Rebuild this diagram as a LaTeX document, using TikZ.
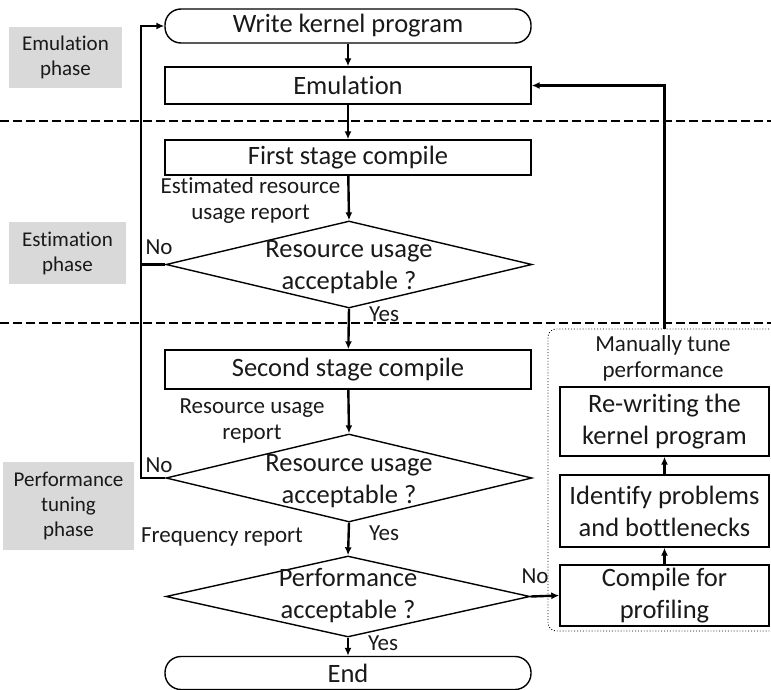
\documentclass[tikz,border=0pt]{standalone}
\usepackage{fontspec}
\setmainfont{Carlito}[Ligatures=NoCommon]
\usetikzlibrary{shapes.geometric,arrows.meta}
\definecolor{phasegray}{RGB}{217,217,217}
\definecolor{ink}{RGB}{25,25,25}
\begin{document}
\begin{tikzpicture}[x=1pt,y=-1pt,
  every node/.style={text=ink},
  box/.style={draw,line width=1.4pt,minimum width=366pt,inner sep=0pt,
    font=\fontsize{26.5}{31}\selectfont,align=center},
  term/.style={box,rounded corners=16pt},
  sidebox/.style={draw,line width=1.4pt,minimum width=209pt,inner sep=0pt,
    font=\fontsize{26.5}{32}\selectfont,align=center},
  dec/.style={draw,diamond,line width=1.4pt,inner sep=0pt,minimum width=366pt},
  dectext/.style={font=\fontsize{26.5}{32}\selectfont,align=center,inner sep=0pt},
  note/.style={font=\fontsize{23}{26}\selectfont,align=center,inner sep=0pt},
  phase/.style={fill=phasegray,font=\fontsize{21}{25}\selectfont,align=center,inner sep=0pt},
  conn/.style={line width=2.4pt,-{Latex[length=8pt,width=7pt]}},
  link/.style={line width=2.4pt},
  sep/.style={line width=2.4pt,dash pattern=on 9pt off 4pt},
]
\useasboundingbox (0,0) rectangle (771,690);

% phase labels
\node[phase,minimum width=113pt,minimum height=61pt] (pemu) at (65.5,57.5) {Emulation\\phase};
\node[phase,minimum width=117pt,minimum height=62pt] (pest) at (67.5,253) {Estimation\\phase};
\node[phase,minimum width=131pt,minimum height=88pt] (pperf) at (68.5,506) {Performance\\tuning\\phase};

% phase separators
\draw[sep] (0,121) -- (771,121);
\draw[sep] (0,323) -- (771,323);

% main flow
\node[term,minimum height=34pt] (start) at (348,26) {Write kernel program};
\node[box,minimum height=37pt] (emu) at (348,85.5) {Emulation};
\node[box,minimum height=35pt] (fsc) at (348,157.5) {First stage compile};
\node[dec,minimum height=87pt] (d1) at (349,264.5) {};
\node[dectext] (d1t) at (349,267) {Resource usage\\acceptable ?};
\node[box,minimum height=39pt] (ssc) at (348,369.5) {Second stage compile};
\node[dec,minimum height=88pt] (d2) at (349,478) {};
\node[dectext] (d2t) at (349,481) {Resource usage\\acceptable ?};
\node[dec,minimum height=81pt,minimum width=364pt] (d3) at (348,596.5) {};
\node[dectext] (d3t) at (348,596) {Performance\\acceptable ?};
\node[term,minimum height=33pt] (end) at (348,673) {End};

% manual tuning group
\node[draw,dotted,line width=0.9pt,rounded corners=8pt,minimum width=232pt,minimum height=302pt]
  (tune) at (664,480) {};
\node[note] (tunet) at (663,358) {Manually tune\\performance};
\node[sidebox,minimum height=69pt] (rw) at (664.5,421.5) {Re-writing the\\kernel program};
\node[sidebox,minimum height=72pt] (idp) at (664.5,511) {Identify problems\\and bottlenecks};
\node[sidebox,minimum height=61pt] (cfp) at (664.5,595.5) {Compile for\\profiling};

% connector labels
\node[note] (l1) at (250.5,200) {Estimated resource\\usage report};
\node[note] (l2) at (252,421) {Resource usage\\report};
\node[note] (l3) at (222,537) {Frequency report};
\node[note] (no1) at (159,247) {No};
\node[note] (no2) at (159,465) {No};
\node[note] (no3) at (535,576) {No};
\node[note] (yes1) at (384,314) {Yes};
\node[note] (yes2) at (384,533) {Yes};
\node[note] (yes3) at (383,643) {Yes};

% connectors
\coordinate (loop) at (141,478);
\draw[conn] (start) -- (emu);
\draw[conn] (emu) -- (fsc);
\draw[conn] (fsc) -- (d1.north);
\draw[conn] (d1.south) -- (ssc);
\draw[conn] (ssc) -- (d2.north);
\draw[conn] (d2.south) -- (d3.north);
\draw[conn] (d3.south) -- (end);
\draw[conn] (d2.west) -- (loop) |- (start.west);
\draw[link] (d1.west) -- (d1.west -| loop);
\draw[conn] (d3.east) -- (cfp.west);
\draw[conn] (cfp) -- (idp);
\draw[conn] (idp) -- (rw);
\draw[conn] (tune.north -| rw.north) |- (emu.east);
\end{tikzpicture}
\end{document}
